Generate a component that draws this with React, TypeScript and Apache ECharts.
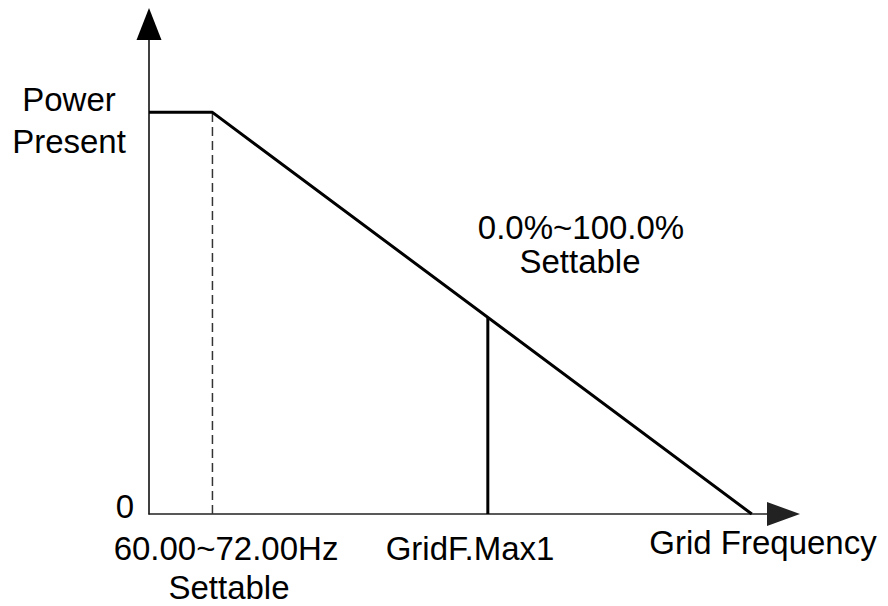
import React, { useEffect, useRef } from "react";
import * as echarts from "echarts";

// Curve: flat power level, knee at the settable frequency, then linear drop to zero
const curveX = [0, 10, 95];
const curveY = [100, 100, 0];
// Dashed guide at the knee frequency
const kneeX = 10;
const kneeY = 100;
// Solid marker at GridF.Max1
const markerX = 53.4;
const markerY = 48.9;
// Axis ranges
const xRange = [0, 100];
const yRange = [0, 122];
// Texts
const yTitle = ["Power", "Present"];
const yZero = "0";
const kneeLabel = ["60.00~72.00Hz", "Settable"];
const markerLabel = "GridF.Max1";
const xTitle = "Grid Frequency";
const slopeLabel = ["0.0%~100.0%", "Settable"];

const FONT = '33px "Liberation Sans", Arial, Helvetica, sans-serif';

export default function App() {
  const ref = useRef<HTMLDivElement>(null);
  useEffect(() => {
    if (!ref.current) return;
    const chart = echarts.init(ref.current, undefined, { renderer: "svg" });
    const txt = (text: string, x: number, y: number) => ({
      type: "text",
      x,
      y,
      style: {
        text,
        font: FONT,
        fill: "#000",
        textAlign: "center",
        textVerticalAlign: "middle",
      },
    });
    chart.setOption({
      animation: false,
      backgroundColor: "#fff",
      grid: { left: 149, right: 104.5, top: 24, bottom: 92 },
      xAxis: {
        type: "value",
        min: xRange[0],
        max: xRange[1],
        axisLine: {
          show: true,
          lineStyle: { color: "#222", width: 1.5 },
          symbol: ["none", "triangle"],
          symbolSize: [24, 33],
        },
        axisTick: { show: false },
        axisLabel: { show: false },
        splitLine: { show: false },
      },
      yAxis: {
        type: "value",
        min: yRange[0],
        max: yRange[1],
        axisLine: {
          show: true,
          lineStyle: { color: "#000", width: 1.5 },
          symbol: ["none", "triangle"],
          symbolSize: [25, 32],
        },
        axisTick: { show: false },
        axisLabel: { show: false },
        splitLine: { show: false },
      },
      series: [
        {
          type: "line",
          data: curveX.map((x, i) => [x, curveY[i]]),
          showSymbol: false,
          symbol: "none",
          lineStyle: { color: "#000", width: 3 },
          z: 3,
        },
        {
          type: "line",
          data: [
            [kneeX, 0],
            [kneeX, kneeY],
          ],
          symbol: "none",
          lineStyle: { color: "#333", width: 1.5, type: [9, 5] },
          z: 2,
        },
        {
          type: "line",
          data: [
            [markerX, 0],
            [markerX, markerY],
          ],
          symbol: "none",
          lineStyle: { color: "#000", width: 3 },
          z: 4,
        },
      ],
      graphic: [
        txt(yTitle[0], 69, 99),
        txt(yTitle[1], 69, 141),
        txt(yZero, 125, 506),
        txt(kneeLabel[0], 226, 548),
        txt(kneeLabel[1], 229, 587),
        txt(markerLabel, 470, 548),
        txt(xTitle, 763, 542),
        txt(slopeLabel[0], 581, 227),
        txt(slopeLabel[1], 580, 261),
      ],
    });
    return () => chart.dispose();
  }, []);
  return (
    <div
      ref={ref}
      style={{ position: "fixed", left: 0, top: 0, width: 888, height: 606 }}
    />
  );
}
